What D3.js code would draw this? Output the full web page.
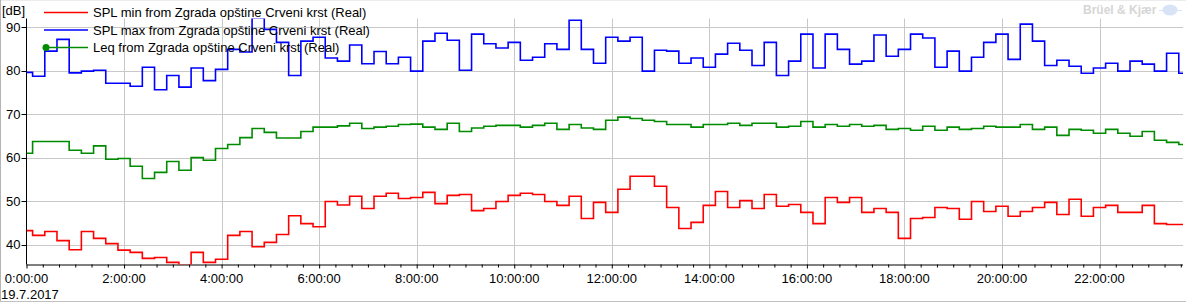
<!DOCTYPE html>
<html>
<head>
<meta charset="utf-8">
<script src="https://cdn.jsdelivr.net/npm/d3@7"></script>
<style>
  body { margin: 0; background: #fff; }
  svg text { font-family: Tahoma, "Liberation Sans", Arial, sans-serif; font-size: 13px; fill: #000; }
</style>
</head>
<body>
<svg id="chart" width="1186" height="302"></svg>
<script>
// 15 minute values, minutes from midnight
var times = d3.range(96).map(function(i) { return i * 15; });

var splMin = [43.2,42.1,43.0,40.9,38.8,43.0,41.4,40.2,38.7,38.2,36.8,37.0,35.9,35.2,38.2,
  35.9,36.6,42.1,43.0,39.5,40.5,42.3,46.6,44.8,44.1,49.9,49.1,51.1,48.3,51.1,51.8,
  50.6,50.8,52.0,49.4,51.3,51.5,47.8,48.3,49.9,51.3,51.8,51.5,49.9,49.0,51.1,
  46.0,49.7,47.4,52.7,55.7,55.7,53.4,48.5,43.7,45.1,49.0,52.2,48.5,50.1,48.3,51.5,
  48.8,49.2,47.4,44.8,50.8,49.7,50.8,47.4,48.3,47.4,41.4,46.0,46.2,48.5,48.3,45.8,
  49.9,47.6,48.8,46.5,47.6,48.5,49.7,46.9,50.4,46.5,48.5,49.0,47.4,47.4,49.0,44.8,44.6,44.6];

var splMax = [79.6,78.7,84.5,87.2,79.5,79.9,80.1,77.1,77.1,76.4,80.8,75.6,78.9,76.2,80.6,
  77.7,80.3,84.9,84.3,92.1,89.5,86.5,78.9,86.8,87.7,82.9,82.2,85.9,81.6,84.4,81.6,
  83.1,79.9,86.8,88.6,87.0,80.1,88.4,86.2,85.2,86.5,82.4,83.1,86.2,84.9,91.6,
  84.9,81.7,87.7,86.8,87.7,79.9,84.7,84.5,81.7,82.9,80.8,83.8,86.3,84.7,81.2,86.5,
  78.9,82.2,88.4,80.6,88.4,84.9,81.5,82.2,88.2,83.3,84.9,88.4,87.5,80.8,84.5,79.9,
  83.1,86.5,88.4,82.6,90.7,86.8,81.2,82.4,81.0,79.4,80.6,81.7,79.9,82.2,81.5,79.9,84.0,79.4];

var leq = [61.0,63.7,63.7,63.7,61.7,61.0,62.7,59.6,59.8,58.0,55.2,56.6,59.1,57.1,60.0,
  59.4,62.1,63.0,64.6,66.7,65.8,64.5,64.5,66.0,67.0,67.0,67.3,67.9,66.7,67.0,67.2,
  67.6,67.7,67.0,66.5,67.9,66.0,66.8,67.2,67.4,67.4,67.0,67.4,67.9,66.5,67.6,
  66.8,66.5,68.6,69.3,69.0,68.6,68.3,67.6,67.6,67.0,67.6,67.6,67.9,67.4,67.9,67.9,
  67.0,67.2,68.3,67.0,67.6,67.2,67.6,67.2,67.4,66.5,66.7,66.3,67.2,66.3,67.0,66.5,
  66.7,67.2,67.0,67.0,67.6,66.5,67.0,65.1,66.5,66.3,65.6,66.5,65.6,64.9,66.0,64.0,63.5,63.0];

var seriesNames = [
  "SPL min from Zgrada opštine Crveni krst (Real)",
  "SPL max from Zgrada opštine Crveni krst (Real)",
  "Leq from Zgrada opštine Crveni krst (Real)"
];
var seriesColors = ["#ff0000", "#0000ff", "#008c00"];

var yTicks = [40, 50, 60, 70, 80, 90];
var xTickHours = [0, 2, 4, 6, 8, 10, 12, 14, 16, 18, 20, 22];
var xTickLabels = ["0:00:00","2:00:00","4:00:00","6:00:00","8:00:00","10:00:00",
  "12:00:00","14:00:00","16:00:00","18:00:00","20:00:00","22:00:00"];
var dateLabel = "19.7.2017";

var svg = d3.select("#chart");
// careful: "top" is taken by window.top
var pLeft = 26.5, pRight = 1183, pTop = 18.5, pBottom = 264.5;

var x = d3.scaleLinear().domain([0, 1422.7]).range([pLeft, pRight]);
var y = d3.scaleLinear().domain([35.4, 92.0]).range([pBottom, pTop]);

// frame
svg.append("line").attr("x1", 0).attr("x2", 1186).attr("y1", 0.5).attr("y2", 0.5).attr("stroke", "#ececec");
svg.append("line").attr("x1", 0.5).attr("x2", 0.5).attr("y1", 0).attr("y2", 302).attr("stroke", "#b4b4b4");
svg.append("line").attr("x1", 0).attr("x2", 1186).attr("y1", 301.5).attr("y2", 301.5).attr("stroke", "#c0c0c0");

svg.append("clipPath").attr("id", "plot")
  .append("rect").attr("x", pLeft).attr("y", pTop).attr("width", pRight - pLeft).attr("height", pBottom - pTop);

// grid
svg.append("g").selectAll("line").data(yTicks).enter().append("line")
  .attr("x1", pLeft - 4).attr("x2", pRight)
  .attr("y1", function(d) { return Math.round(y(d)) + 0.5; })
  .attr("y2", function(d) { return Math.round(y(d)) + 0.5; })
  .attr("stroke", "#c8c8c8");
svg.append("g").selectAll("line").data(xTickHours.slice(1)).enter().append("line")
  .attr("x1", function(d) { return Math.round(x(d * 60)) + 0.5; })
  .attr("x2", function(d) { return Math.round(x(d * 60)) + 0.5; })
  .attr("y1", pTop).attr("y2", pBottom)
  .attr("stroke", "#c8c8c8");

// y axis
svg.append("line").attr("x1", pLeft).attr("x2", pLeft).attr("y1", pTop).attr("y2", pBottom).attr("stroke", "#000");
svg.append("g").selectAll("line").data(yTicks).enter().append("line")
  .attr("x1", pLeft - 5).attr("x2", pLeft)
  .attr("y1", function(d) { return Math.round(y(d)) + 0.5; })
  .attr("y2", function(d) { return Math.round(y(d)) + 0.5; })
  .attr("stroke", "#000");
svg.append("g").selectAll("text").data(yTicks).enter().append("text")
  .attr("x", 20.5).attr("y", function(d) { return y(d); })
  .attr("dy", "0.35em").attr("text-anchor", "end")
  .text(function(d) { return d; });
svg.append("text").attr("x", 2).attr("y", 10.5).attr("dy", "0.35em").text("[dB]");

// x axis, minor ticks every 20 min
var xAxis = d3.axisBottom(x)
  .tickValues(d3.range(0, 1422, 20))
  .tickSize(3)
  .tickFormat("");
svg.append("g").attr("transform", "translate(0," + pBottom + ")").call(xAxis)
  .call(function(g) {
    g.select(".domain").attr("d", "M" + pLeft + ",0.5H" + pRight).attr("stroke", "#000");
    g.selectAll(".tick line").attr("stroke", "#000")
      .attr("y2", function(d) { return d % 120 === 0 ? 4 : 3; });
  });
svg.append("g").selectAll("text").data(xTickHours).enter().append("text")
  .attr("x", function(d) { return x(d * 60); })
  .attr("y", 278.5).attr("dy", "0.35em").attr("text-anchor", "middle")
  .text(function(d, i) { return xTickLabels[i]; });
svg.append("text").attr("x", 1).attr("y", 294.5).attr("dy", "0.35em").text(dateLabel);

// series
var line = d3.line()
  .x(function(d, i) { return x(times[i]); })
  .y(function(d) { return y(d); })
  .curve(d3.curveStep);

svg.append("g").attr("clip-path", "url(#plot)")
  .selectAll("path").data([splMin, splMax, leq]).enter().append("path")
  .attr("d", line)
  .attr("fill", "none")
  .attr("stroke", function(d, i) { return seriesColors[i]; })
  .attr("stroke-width", 1.6);

// legend
var rowY = [12.5, 30, 47.5];
var legend = svg.append("g").attr("class", "legend");
legend.selectAll("line").data(seriesNames).enter().append("line")
  .attr("x1", 44).attr("x2", 88)
  .attr("y1", function(d, i) { return rowY[i]; })
  .attr("y2", function(d, i) { return rowY[i]; })
  .attr("stroke", function(d, i) { return seriesColors[i]; })
  .attr("stroke-width", 1.6);
legend.append("circle").attr("cx", 46).attr("cy", rowY[2]).attr("r", 3.5).attr("fill", seriesColors[2]);
legend.selectAll("text").data(seriesNames).enter().append("text")
  .attr("x", 93).attr("y", function(d, i) { return rowY[i]; })
  .attr("dy", "0.35em")
  .text(function(d) { return d; });

// Brüel & Kjær mark
var logo = svg.append("g");
logo.append("text").attr("x", 1083).attr("y", 10).attr("dy", "0.35em")
  .style("font-weight", "bold").style("font-size", "12px").style("fill", "#d6d6d6")
  .text("Brüel & Kjær");
logo.append("ellipse").attr("cx", 1170).attr("cy", 10).attr("rx", 7.5).attr("ry", 5.5).attr("fill", "#d8e4f6");
logo.append("line").attr("x1", 1159).attr("x2", 1182).attr("y1", 10.5).attr("y2", 10.5).attr("stroke", "#d8e4f6");
</script>
</body>
</html>
